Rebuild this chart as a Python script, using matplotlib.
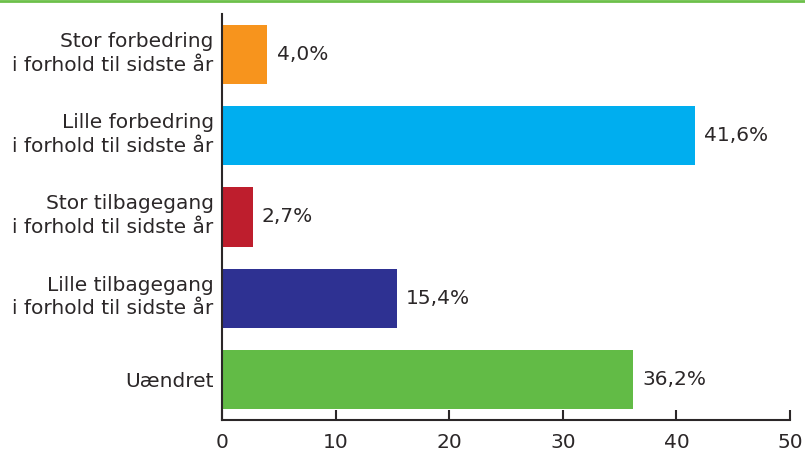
import matplotlib
matplotlib.use("Agg")
import matplotlib.pyplot as plt
from matplotlib.lines import Line2D
from matplotlib.transforms import ScaledTranslation

categories = [
    "Stor forbedring\ni forhold til sidste år",
    "Lille forbedring\ni forhold til sidste år",
    "Stor tilbagegang\ni forhold til sidste år",
    "Lille tilbagegang\ni forhold til sidste år",
    "Uændret",
]
values = [4.0, 41.6, 2.7, 15.4, 36.2]
colors = ["#f7941d", "#00aeef", "#be1e2d", "#2e3192", "#62bb46"]
xticks = [0, 10, 20, 30, 40, 50]

plt.rcParams["font.family"] = ["DejaVu Sans"]
text_color = "#2b2728"
fs = 14.5

fig = plt.figure(figsize=(8.05, 4.5), dpi=100)
ax = fig.add_axes([222 / 805, 1 - 420 / 450, (790 - 222) / 805, (420 - 14) / 450])

ypos = list(range(len(categories)))
ax.barh(ypos, values, height=0.73, color=colors, zorder=2)

for y, v in zip(ypos, values):
    ax.text(v + 0.8, y, f"{v:.1f}".replace(".", ",") + "%",
            va="center", ha="left", fontsize=fs, color=text_color)

ax.set_ylim(len(categories) - 0.5, -0.5)
ax.set_xlim(0, 50)
ax.set_yticks(ypos)
ax.set_yticklabels(categories, fontsize=fs, color=text_color, linespacing=1.3)
ax.set_xticks(xticks)
ax.set_xticklabels([str(t) for t in xticks], fontsize=fs, color=text_color)

ax.tick_params(axis="y", length=0, pad=6)
ax.tick_params(axis="x", direction="in", length=7.5, width=1.5, color=text_color, pad=9)

# lift the two-line category labels slightly so they sit centred on the bars
lift = ScaledTranslation(0, 4 / 72, fig.dpi_scale_trans)
for lbl, cat in zip(ax.get_yticklabels(), categories):
    if "\n" in cat:
        lbl.set_transform(lbl.get_transform() + lift)

for side in ("top", "right"):
    ax.spines[side].set_visible(False)
for side in ("left", "bottom"):
    ax.spines[side].set_color(text_color)
    ax.spines[side].set_linewidth(1.5)

# thin green rule across the top of the figure
fig.add_artist(Line2D([0, 1], [1 - 1.2 / 450, 1 - 1.2 / 450],
                      transform=fig.transFigure, color="#6cc04a", linewidth=2))

fig.savefig("out.png", dpi=100)
